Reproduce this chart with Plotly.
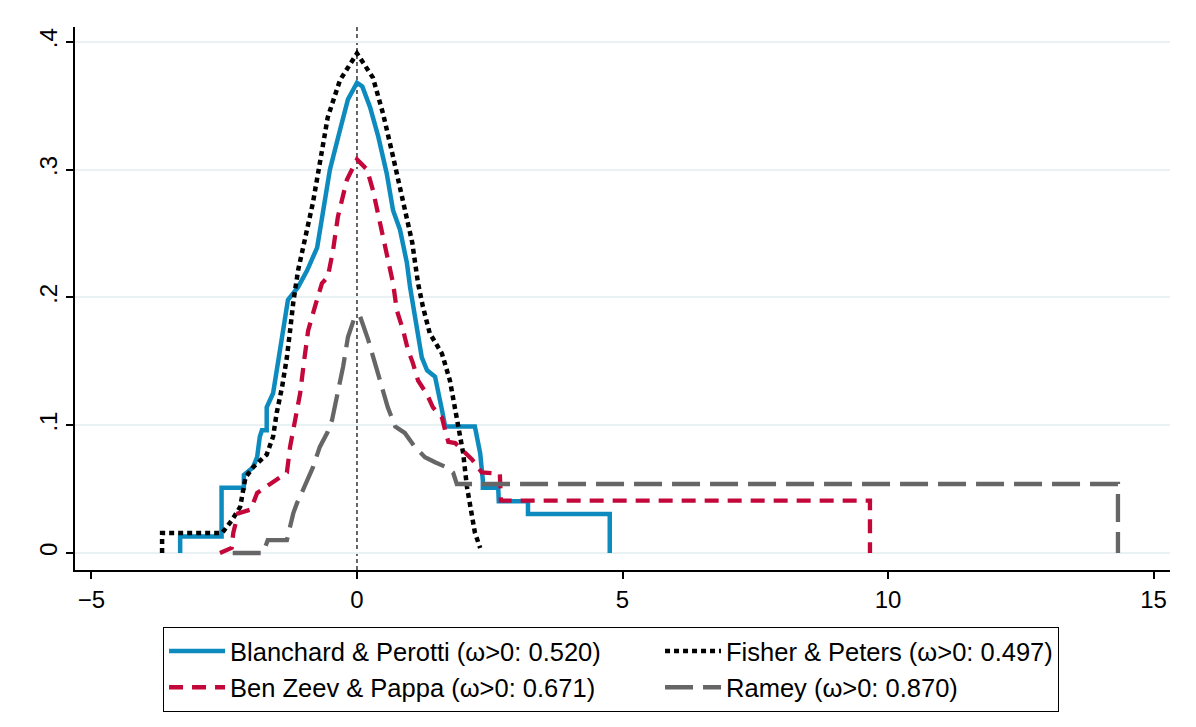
import plotly.graph_objects as go

# ---- data ----
bp_x = [-3.33, -3.33, -2.55, -2.55, -2.13, -2.13, -1.96, -1.88, -1.83, -1.79, -1.70, -1.70,
        -1.58, -1.49, -1.36, -1.30, -1.11, -0.94, -0.75, -0.66, -0.51, -0.32, -0.17, 0.0,
        0.10, 0.245, 0.40, 0.56, 0.68, 0.81, 0.94, 1.0, 1.13, 1.22, 1.32, 1.47, 1.6, 1.66,
        2.22, 2.32, 2.37, 2.37, 2.66, 2.67, 3.22, 3.22, 4.76, 4.76]
bp_y = [0.0, 0.013, 0.013, 0.051, 0.051, 0.061, 0.067, 0.075, 0.091, 0.096, 0.096, 0.114,
        0.125, 0.149, 0.180, 0.198, 0.208, 0.221, 0.239, 0.263, 0.300, 0.331, 0.355, 0.368,
        0.365, 0.349, 0.326, 0.297, 0.268, 0.253, 0.227, 0.208, 0.174, 0.153, 0.143, 0.138,
        0.112, 0.099, 0.099, 0.078, 0.057, 0.051, 0.051, 0.0405, 0.0405, 0.0305, 0.0305, 0.0]

fp_x = [-3.67, -3.67, -2.54, -2.35, -2.2, -2.1, -1.96, -1.7, -1.58, -1.51, -1.41, -1.32,
        -1.26, -1.2, -1.11, -0.98, -0.83, -0.70, -0.55, -0.32, 0.0, 0.30, 0.49, 0.68, 0.87,
        1.04, 1.15, 1.24, 1.37, 1.6, 1.75, 1.85, 1.9, 2.0, 2.07, 2.13, 2.22, 2.32]
fp_y = [0.0, 0.0156, 0.0156, 0.026, 0.036, 0.059, 0.067, 0.077, 0.091, 0.110, 0.130, 0.153,
        0.174, 0.196, 0.221, 0.247, 0.274, 0.305, 0.341, 0.370, 0.391, 0.372, 0.344, 0.310,
        0.274, 0.243, 0.211, 0.193, 0.172, 0.156, 0.135, 0.114, 0.099, 0.078, 0.052, 0.036,
        0.016, 0.004]

bz_x = [-2.58, -2.36, -2.33, -2.24, -2.0, -1.88, -1.6, -1.32, -1.26, -1.17, -1.07, -1.0,
        -0.92, -0.79, -0.66, -0.55, -0.45, -0.36, -0.19, 0.0, 0.19, 0.30, 0.43, 0.56, 0.68,
        0.75, 0.87, 0.96, 1.05, 1.15, 1.32, 1.43, 1.6, 1.66, 1.72, 1.85, 2.03, 2.17, 2.35,
        2.69, 2.71, 9.66, 9.66]
bz_y = [0.0, 0.004, 0.0156, 0.031, 0.034, 0.047, 0.055, 0.063, 0.083, 0.104, 0.125, 0.149,
        0.174, 0.193, 0.211, 0.216, 0.237, 0.263, 0.292, 0.308, 0.300, 0.284, 0.258, 0.232,
        0.211, 0.190, 0.174, 0.159, 0.149, 0.135, 0.124, 0.114, 0.106, 0.096, 0.087, 0.086,
        0.078, 0.073, 0.063, 0.062, 0.041, 0.041, 0.0]

ra_x = [-2.34, -1.77, -1.68, -1.32, -1.2, -1.13, -1.02, -0.83, -0.70, -0.56, -0.47, -0.38,
        -0.26, -0.17, -0.04, 0.0, 0.06, 0.21, 0.34, 0.47, 0.58, 0.72, 0.90, 1.09, 1.28,
        1.47, 1.69, 1.81, 1.88, 14.33, 14.33]
ra_y = [0.0, 0.0, 0.010, 0.010, 0.031, 0.039, 0.049, 0.067, 0.083, 0.094, 0.104, 0.122,
        0.146, 0.169, 0.185, 0.186, 0.185, 0.167, 0.149, 0.130, 0.114, 0.099, 0.094, 0.083,
        0.075, 0.071, 0.067, 0.063, 0.054, 0.054, 0.0]

names = ["Blanchard & Perotti (ω>0: 0.520)", "Fisher & Peters (ω>0: 0.497)",
         "Ben Zeev & Pappa (ω>0: 0.671)", "Ramey (ω>0: 0.870)"]

x_ticks = [-5, 0, 5, 10, 15]
x_ticktext = ["−5", "0", "5", "10", "15"]
y_ticks = [0, 0.1, 0.2, 0.3, 0.4]
y_ticktext = ["0", ".1", ".2", ".3", ".4"]

FONT = "Liberation Sans"

fig = go.Figure()
fig.add_trace(go.Scatter(x=bp_x, y=bp_y, mode="lines", name=names[0],
                         line=dict(color="#0d8bbf", width=4.5), legendwidth=425))
fig.add_trace(go.Scatter(x=fp_x, y=fp_y, mode="lines", name=names[1],
                         line=dict(color="black", width=4.5, dash="5px,4px")))
fig.add_trace(go.Scatter(x=bz_x, y=bz_y, mode="lines", name=names[2],
                         line=dict(color="#c4073a", width=4.3, dash="14px,9px"), legendwidth=425))
fig.add_trace(go.Scatter(x=ra_x, y=ra_y, mode="lines", name=names[3],
                         line=dict(color="#666666", width=4.3, dash="28px,10px")))

fig.add_shape(type="line", xref="x", yref="paper", x0=0, x1=0, y0=0, y1=1,
              line=dict(color="black", width=1.2, dash="4px,3px"), layer="below")

fig.update_layout(
    width=1188, height=719,
    margin=dict(l=67, r=26, t=19, b=157),
    paper_bgcolor="white", plot_bgcolor="white",
    font=dict(family=FONT, size=24, color="black"),
    showlegend=True,
    legend=dict(orientation="h", x=0.0804, xanchor="left", y=-0.105, yanchor="top",
                bordercolor="black", borderwidth=1, font=dict(size=25.5, family=FONT),
                itemwidth=56, traceorder="normal"),
    xaxis=dict(range=[-5.31, 15.31], tickvals=x_ticks, ticktext=x_ticktext,
               showgrid=False, zeroline=False, showline=True, linecolor="black", linewidth=1.5,
               ticks="outside", ticklen=7, tickwidth=1.5, tickcolor="black",
               tickfont=dict(size=24)),
    yaxis=dict(range=[-0.0133, 0.4116], tickvals=y_ticks, ticktext=y_ticktext,
               showgrid=True, gridcolor="#e9f1f3", gridwidth=1.5, zeroline=False,
               showline=True, linecolor="black", linewidth=1.5,
               ticks="outside", ticklen=7, tickwidth=1.5, tickcolor="black",
               tickangle=-90, tickfont=dict(size=24)),
)

fig.write_html("out.html")
